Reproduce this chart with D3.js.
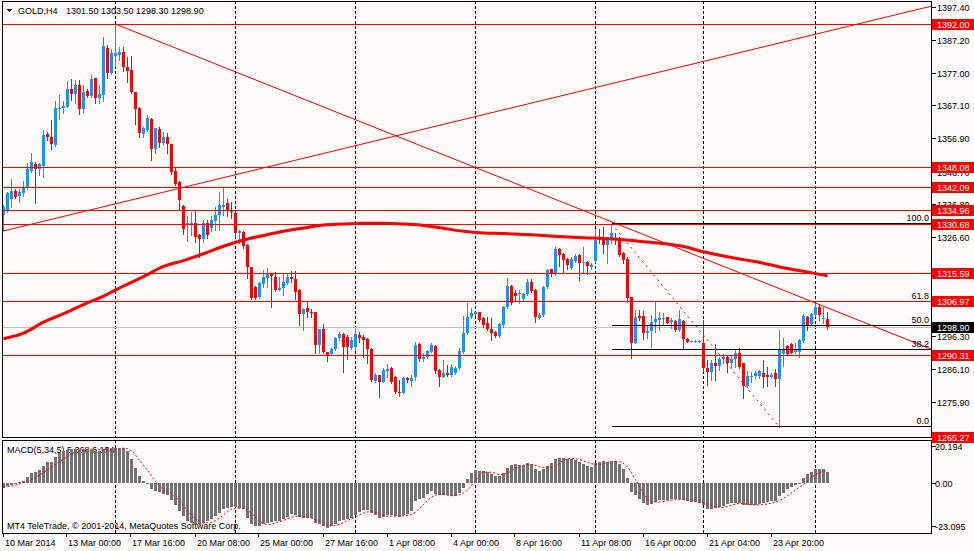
<!DOCTYPE html>
<html>
<head>
<meta charset="utf-8">
<script src="https://cdn.jsdelivr.net/npm/d3@7"></script>
<style>
    html, body { margin: 0; padding: 0; background: #fffafa; overflow: hidden; }
    svg { display: block; font-family: "Liberation Sans", Arial, sans-serif; font-size: 9px; }
</style>
</head>
<body>
<div id="chart"></div>
<script>
// =============================
// DATA (GOLD H4)
// =============================
const opens = [1333.4,1334.9,1338.2,1340.8,1339.2,1340.1,1341.6,1347.0,1349.1,1347.4,1348.4,1358.2,1357.4,1354.9,1365.9,1366.3,1366.6,1372.0,1370.5,1373.3,
1365.9,1371.5,1369.9,1375.4,1369.4,1370.2,1384.6,1376.9,1382.3,1382.5,1383.5,1378.9,1377.9,1371.2,1366.2,1358.3,1359.5,1362.9,1353.6,1359.7,
1355.6,1357.4,1355.1,1346.9,1343.4,1336.2,1330.8,1330.9,1331.0,1327.3,1325.9,1330.8,1329.3,1331.6,1333.4,1335.9,1337.0,1334.9,1334.1,1328.0,
1328.3,1324.2,1317.3,1311.2,1308.1,1312.2,1314.2,1315.5,1314.5,1310.4,1310.9,1312.4,1314.5,1313.8,1310.4,1303.0,1304.9,1303.6,1303.6,1293.5,
1298.3,1291.4,1290.7,1292.3,1295.5,1296.8,1296.0,1292.5,1293.0,1296.6,1296.0,1295.2,1292.3,1282.5,1284.3,1282.2,1285.5,1286.3,1283.6,1279.1,
1278.8,1283.4,1282.5,1283.6,1293.7,1289.1,1289.9,1291.4,1293.3,1285.8,1283.8,1285.0,1284.3,1284.8,1286.5,1291.4,1297.1,1302.0,1302.9,1303.5,
1301.9,1300.1,1298.3,1297.4,1296.3,1299.6,1305.2,1311.6,1309.4,1309.1,1307.6,1309.1,1312.9,1310.4,1301.9,1302.7,1311.4,1316.7,1315.3,1322.9,
1321.3,1319.8,1317.2,1319.4,1321.1,1318.8,1319.1,1317.3,1319.4,1326.7,1326.7,1324.2,1325.9,1326.4,1326.2,1321.6,1319.8,1308.3,1294.2,1302.5,
1302.5,1297.3,1297.8,1300.5,1301.2,1301.5,1302.0,1300.5,1300.9,1298.1,1300.9,1295.2,1294.5,1294.6,1294.6,1294.0,1286.5,1285.3,1288.1,1287.1,
1289.1,1289.9,1288.1,1289.1,1290.9,1287.9,1281.0,1283.8,1284.0,1284.1,1284.8,1284.3,1283.8,1285.0,1283.0,1290.7,1293.3,1293.8,1291.2,1291.4,
1294.8,1302.2,1299.9,1302.7,1305.2,1301.4,1301.5];
const highs = [1336.5,1340.5,1344.4,1341.3,1341.5,1343.9,1349.3,1352.5,1349.8,1349.5,1359.5,1358.9,1362.6,1368.5,1370.2,1368.4,1374.6,1375.1,1374.8,1374.8,
1373.3,1372.1,1376.4,1375.5,1373.3,1388.1,1385.6,1384.4,1392.0,1385.1,1385.1,1382.0,1382.2,1371.2,1366.5,1360.3,1364.1,1363.3,1360.2,1360.5,
1359.0,1358.7,1355.2,1348.2,1343.9,1336.5,1333.1,1334.2,1334.9,1327.6,1331.9,1331.9,1333.1,1335.9,1340.4,1342.1,1338.3,1337.5,1334.4,1328.8,
1328.5,1324.4,1317.5,1311.6,1312.9,1316.5,1317.0,1315.7,1316.0,1314.3,1315.7,1315.5,1316.3,1316.3,1310.6,1304.9,1306.6,1304.5,1303.7,1298.5,
1299.9,1291.4,1292.7,1296.0,1297.6,1297.1,1296.6,1296.0,1299.1,1297.6,1296.6,1295.5,1292.5,1284.8,1284.3,1286.3,1287.6,1286.8,1284.0,1282.7,
1283.8,1283.8,1284.3,1294.3,1294.0,1290.9,1291.9,1294.0,1293.5,1286.0,1288.9,1287.3,1287.3,1287.1,1292.7,1302.4,1306.3,1304.8,1303.7,1303.7,
1302.2,1302.0,1301.9,1297.8,1300.1,1305.6,1314.0,1311.9,1310.4,1310.4,1309.4,1313.7,1313.7,1310.7,1303.2,1311.6,1316.8,1316.8,1323.5,1323.4,
1321.8,1320.1,1320.6,1321.3,1321.3,1323.5,1319.4,1318.6,1329.0,1329.0,1329.8,1326.7,1330.7,1327.8,1326.6,1322.1,1320.6,1308.3,1304.2,1304.2,
1303.9,1299.6,1302.7,1306.8,1303.7,1303.4,1302.2,1301.9,1301.2,1304.2,1301.2,1295.5,1294.7,1294.9,1295.0,1301.2,1288.9,1288.9,1293.8,1289.9,
1290.6,1290.4,1290.4,1292.3,1292.5,1288.1,1285.5,1285.3,1285.5,1285.8,1288.9,1286.8,1285.0,1286.0,1298.1,1295.5,1293.5,1294.0,1294.0,1295.2,
1302.9,1302.4,1303.2,1306.3,1306.0,1305.1,1303.5];
const lows = [1328.8,1334.3,1335.9,1338.5,1337.5,1339.3,1341.3,1346.7,1337.2,1345.6,1345.2,1356.4,1353.7,1354.6,1362.9,1364.6,1366.5,1368.7,1367.9,1364.3,
1365.1,1369.7,1369.7,1367.7,1367.9,1368.4,1375.5,1376.6,1379.2,1381.0,1377.7,1374.3,1370.9,1361.3,1357.4,1357.4,1359.3,1350.3,1352.5,1354.2,
1355.2,1352.5,1345.9,1342.6,1335.2,1327.5,1325.4,1327.3,1325.2,1320.6,1325.2,1326.2,1328.6,1328.8,1328.8,1333.4,1333.1,1332.4,1326.7,1324.7,
1323.4,1314.1,1307.6,1307.5,1307.8,1311.4,1311.4,1305.2,1310.1,1310.4,1308.8,1312.2,1312.9,1307.6,1299.6,1298.1,1302.2,1302.0,1291.1,1291.1,
1291.1,1288.6,1290.4,1291.9,1295.0,1285.3,1289.2,1292.2,1291.9,1294.5,1289.9,1288.1,1282.4,1282.2,1277.6,1282.0,1283.7,1281.9,1278.7,1277.8,
1278.7,1282.2,1280.9,1282.7,1288.7,1288.7,1289.6,1291.2,1285.0,1281.0,1283.6,1284.1,1284.0,1284.6,1286.1,1290.9,1296.9,1301.7,1302.6,1300.9,
1299.1,1298.1,1295.0,1295.8,1296.0,1298.9,1304.8,1306.0,1307.3,1306.5,1307.3,1308.7,1309.8,1300.5,1301.5,1302.4,1311.1,1314.7,1315.0,1317.7,
1316.0,1316.8,1316.8,1319.1,1313.4,1316.0,1315.2,1316.7,1319.1,1324.7,1321.8,1318.6,1324.7,1324.5,1320.9,1318.6,1306.8,1289.4,1294.0,1301.2,
1295.2,1295.5,1293.0,1297.6,1298.1,1299.9,1300.1,1298.8,1297.9,1297.9,1292.7,1294.3,1294.4,1294.4,1294.4,1285.8,1281.2,1282.7,1282.7,1285.8,
1287.9,1285.3,1286.8,1286.6,1286.3,1277.1,1280.7,1282.2,1283.3,1283.3,1280.5,1281.0,1283.3,1280.9,1268.2,1287.1,1290.4,1290.9,1290.9,1289.9,
1294.5,1298.1,1299.6,1302.4,1301.2,1300.1,1298.3];
const closes = [1335.9,1340.2,1340.8,1339.0,1340.5,1341.8,1347.5,1349.6,1347.5,1349.1,1357.9,1357.2,1355.1,1366.2,1366.3,1366.9,1372.0,1370.5,1373.3,1365.9,
1371.2,1370.0,1375.1,1369.4,1370.5,1385.3,1377.1,1383.2,1383.0,1383.5,1378.7,1377.7,1371.2,1365.9,1358.7,1360.0,1363.1,1353.6,1360.0,1355.4,
1357.4,1355.1,1346.7,1342.9,1338.0,1329.1,1331.0,1331.0,1326.7,1325.9,1330.8,1327.3,1331.9,1333.4,1336.5,1336.5,1334.9,1334.4,1328.0,1328.6,
1323.9,1317.3,1307.8,1307.8,1312.6,1314.3,1315.5,1314.8,1310.4,1311.1,1312.7,1314.3,1313.8,1309.8,1303.0,1304.5,1303.6,1303.2,1293.5,1298.3,
1291.4,1290.2,1292.2,1295.7,1296.8,1293.0,1293.0,1295.0,1296.9,1295.5,1295.0,1292.3,1282.7,1284.3,1282.2,1285.8,1286.1,1282.2,1279.0,1278.7,
1283.4,1282.7,1283.4,1293.5,1289.1,1289.9,1291.6,1293.5,1285.5,1283.6,1285.0,1284.3,1286.8,1286.5,1291.6,1297.1,1302.2,1303.2,1303.5,1301.2,
1299.6,1298.3,1297.1,1296.3,1299.8,1305.2,1311.6,1306.3,1308.5,1309.4,1309.1,1312.9,1310.1,1302.2,1302.7,1311.4,1316.5,1315.3,1322.9,1321.1,
1319.6,1318.0,1319.9,1320.9,1318.6,1319.1,1317.7,1318.0,1325.7,1325.7,1324.2,1326.2,1327.8,1325.7,1321.1,1319.6,1307.8,1294.0,1302.0,1301.7,
1297.1,1297.8,1300.5,1301.5,1301.9,1301.9,1300.3,1301.2,1298.1,1301.5,1295.2,1294.5,1294.6,1294.7,1294.8,1286.3,1285.3,1288.1,1287.1,1289.1,
1289.9,1288.1,1289.1,1290.9,1286.8,1281.0,1284.1,1284.1,1284.8,1285.5,1283.8,1283.8,1284.3,1283.0,1291.9,1292.3,1290.7,1291.1,1292.3,1295.0,
1302.4,1299.6,1302.9,1305.2,1302.7,1301.9,1298.9];

// moving average, sampled every 5 bars
const maBars = [0,5,10,15,20,25,30,35,40,45,50,55,60,65,70,75,80,85,90,95,100,105,110,115,120,125,130,135,140,145,150,155,160,165,170,175,180,185,190,195,200,206];
const maVals = [1295.4,1297.1,1300.5,1303.1,1305.9,1308.5,1311.6,1314.5,1317.6,1319.4,1321.5,1323.8,1325.7,1327.1,1328.4,1329.4,1330.3,1330.6,1330.9,1330.9,
1330.6,1330.2,1329.3,1328.4,1327.9,1327.7,1327.4,1327.1,1326.7,1326.4,1326.2,1325.8,1325.2,1324.6,1323.7,1322.1,1320.8,1319.7,1318.6,1317.2,1316.1,1314.7];

// MACD(5,34,5) histogram, one value per bar
const macdVals = [-2.5,-1.5,-1.0,0.3,0.6,1.5,3.6,5.4,6.1,7.2,9.4,11.5,11.5,14.4,16.2,17.5,18.0,18.4,18.4,18.4,
18.8,18.0,18.0,17.5,17.5,18.4,18.9,18.9,19.3,19.3,18.9,17.5,13.0,8.5,4.0,1.3,0.4,-3.2,-4.1,-4.7,
-5.6,-6.5,-9.0,-11.9,-15.0,-17.7,-20.4,-21.3,-21.8,-22.2,-21.3,-20.4,-19.5,-17.7,-15.9,-14.1,-13.2,-12.6,-12.8,-13.5,
-14.1,-18.6,-21.8,-23.1,-23.1,-22.2,-21.3,-20.7,-20.4,-20.4,-19.1,-18.0,-16.8,-17.3,-18.0,-18.6,-18.6,-18.6,-21.3,-22.2,
-23.1,-24.0,-23.1,-21.8,-20.4,-19.8,-19.1,-18.6,-17.3,-15.5,-14.6,-14.6,-15.9,-17.3,-18.6,-18.0,-17.3,-17.3,-17.7,-18.0,
-17.3,-16.8,-15.0,-9.6,-8.7,-7.8,-6.0,-4.1,-6.0,-6.5,-6.5,-6.5,-6.9,-6.9,-5.1,-2.3,2.5,5.4,7.2,6.7,
6.4,6.0,4.9,4.0,4.0,5.8,8.5,9.9,10.3,9.7,9.9,10.8,10.3,7.6,6.7,7.9,9.4,10.8,13.3,13.9,
13.9,13.0,13.0,12.6,11.7,10.3,9.4,9.0,10.8,11.7,12.1,11.7,12.1,12.1,10.3,7.9,3.1,-4.7,-6.5,-8.3,
-10.5,-11.7,-11.0,-10.1,-9.2,-9.0,-9.0,-8.7,-8.7,-8.7,-9.0,-9.6,-9.9,-10.1,-10.5,-11.9,-13.7,-13.7,-13.2,-12.6,
-12.3,-11.4,-10.8,-10.5,-10.5,-11.9,-11.9,-11.9,-11.7,-11.4,-10.8,-10.1,-9.6,-9.6,-6.9,-5.1,-3.2,-2.0,-1.1,0.4,
2.7,5.2,6.3,7.6,7.6,7.6,6.1];

// signal line, sampled every 2 bars
const signalBars = d3.range(0, 207, 2);
const signalVals = [-1.8,-1.5,-0.2,1.0,3.2,5.8,8.8,11.6,14.5,16.9,17.8,18.4,18.2,18.0,18.2,19.0,17.6,12.4,7.0,1.0,
-3.4,-5.9,-9.4,-14.8,-19.3,-21.4,-21.1,-18.8,-15.4,-13.5,-13.5,-16.4,-20.4,-22.4,-21.4,-20.1,-18.3,-17.7,-18.2,-19.7,
-21.4,-23.1,-22.1,-20.1,-18.3,-16.1,-15.3,-16.5,-17.8,-17.7,-17.6,-16.8,-13.7,-9.4,-6.4,-6.0,-6.7,-6.2,-3.6,1.5,
6.0,6.0,4.6,5.6,8.0,9.8,10.2,9.0,8.5,9.5,12.4,13.5,12.8,11.4,10.2,10.6,11.7,11.6,8.8,2.0,
-5.3,-10.0,-10.1,-9.4,-8.9,-8.8,-9.2,-10.0,-11.3,-12.6,-13.1,-11.9,-10.9,-11.3,-11.7,-11.5,-10.7,-9.3,-6.7,-3.6,
-0.6,3.2,5.8,7.0];

// horizontal levels, trendlines, fibo
const levelPrices = [1392.00, 1348.08, 1342.09, 1334.96, 1330.68, 1315.59, 1306.97, 1290.31, 1265.27];
const bidPrice = 1298.90;
const trendUp = [{bar: 0, price: 1328.5}, {bar: 200, price: 1388.0}];
const trendDown = [{bar: 28, price: 1392.0}, {bar: 206, price: 1304.9}];
const fibFrom = {bar: 152, price: 1330.68};
const fibTo = {bar: 194, price: 1268.2};
const fibLevels = [100.0, 61.8, 50.0, 38.2, 0.0];

// axes
const priceTicks = [1397.40, 1387.20, 1377.00, 1367.10, 1356.90, 1346.70, 1336.80, 1326.60, 1316.40, 1306.20, 1296.30, 1286.10, 1275.90];
const macdTicks = [20.194, 0, -23.095];
const macdTickLabels = ["20.194", "0.00", "-23.095"];
const timeBars = [0, 16, 32, 48, 64, 80, 96, 112, 128, 144, 160, 176, 192];
const timeLabels = ["10 Mar 2014", "13 Mar 00:00", "17 Mar 16:00", "20 Mar 08:00", "25 Mar 00:00", "27 Mar 16:00",
    "1 Apr 08:00", "4 Apr 00:00", "8 Apr 16:00", "11 Apr 08:00", "16 Apr 00:00", "21 Apr 04:00", "23 Apr 20:00"];
const separatorBars = [28, 58, 88, 118, 148, 175, 203];

// =============================
// LAYOUT & SCALES
// =============================
const W = 974, H = 551;
const plotL = 2, plotR = 931;
const mainTop = 1, mainBot = 437;
const macdTop = 440, macdBot = 533;

const RED = "#ff0000", BLUE = "#1e90ff", BG = "#fffafa";

const x = d3.scaleLinear().domain([0, 206]).range([3.5, 827.5]);
const y = d3.scaleLinear().domain([1265.24, 1399.4]).range([mainBot, 0]);
const ym = d3.scaleLinear().domain([-26.9, 23.43]).range([macdBot, macdTop]);
const crisp = v => Math.round(v) + 0.5;

const candles = opens.map((o, i) => ({ i, o, h: highs[i], l: lows[i], c: closes[i] }));

const svg = d3.select("#chart").append("svg")
    .attr("width", W)
    .attr("height", H);

svg.append("rect").attr("width", W).attr("height", H).attr("fill", BG);

const defs = svg.append("defs");
defs.append("clipPath").attr("id", "clipMain").append("rect")
    .attr("x", plotL).attr("y", mainTop).attr("width", plotR - plotL).attr("height", mainBot - mainTop);
defs.append("clipPath").attr("id", "clipMacd").append("rect")
    .attr("x", plotL).attr("y", macdTop).attr("width", plotR - plotL).attr("height", macdBot - macdTop);

// =============================
// MAIN WINDOW
// =============================
const main = svg.append("g").attr("clip-path", "url(#clipMain)").attr("shape-rendering", "crispEdges");

// period separators
main.selectAll("line.sep").data(separatorBars).enter().append("line")
    .attr("x1", d => x(d)).attr("x2", d => x(d))
    .attr("y1", mainTop).attr("y2", mainBot)
    .attr("stroke", "#000").attr("stroke-dasharray", "3,2");

// bid line
main.append("line")
    .attr("x1", plotL).attr("x2", plotR)
    .attr("y1", crisp(y(bidPrice))).attr("y2", crisp(y(bidPrice)))
    .attr("stroke", "#c0c0c0");

// candles
const candle = main.append("g").selectAll("g").data(candles).enter().append("g")
    .attr("fill", d => d.c >= d.o ? BLUE : RED)
    .attr("stroke", d => d.c >= d.o ? BLUE : RED);

candle.append("line")
    .attr("x1", d => x(d.i)).attr("x2", d => x(d.i))
    .attr("y1", d => Math.round(y(d.h))).attr("y2", d => Math.round(y(d.l)) + 1);

candle.append("rect")
    .attr("stroke", "none")
    .attr("x", d => x(d.i) - 1.5)
    .attr("width", 3)
    .attr("y", d => Math.round(y(Math.max(d.o, d.c))))
    .attr("height", d => Math.max(1, Math.round(y(Math.min(d.o, d.c))) - Math.round(y(Math.max(d.o, d.c)))));

// moving average
const maLine = d3.line()
    .x((d, k) => x(maBars[k]))
    .y(d => y(d))
    .curve(d3.curveMonotoneX);

main.append("path")
    .attr("d", maLine(maVals))
    .attr("fill", "none")
    .attr("stroke", RED)
    .attr("stroke-width", 3)
    .attr("shape-rendering", "auto");

// fibo levels
const fibPrice = lv => fibTo.price + (fibFrom.price - fibTo.price) * lv / 100;
main.selectAll("line.fib").data(fibLevels).enter().append("line")
    .attr("x1", x(fibFrom.bar)).attr("x2", plotR)
    .attr("y1", d => crisp(y(fibPrice(d))) - 1).attr("y2", d => crisp(y(fibPrice(d))) - 1)
    .attr("stroke", "#000");

// horizontal levels
main.selectAll("line.lvl").data(levelPrices).enter().append("line")
    .attr("x1", plotL).attr("x2", plotR)
    .attr("y1", d => crisp(y(d))).attr("y2", d => crisp(y(d)))
    .attr("stroke", RED);

// trendlines
function rayPoints(a, b, fromX, toX) {
    const ax = x(a.bar), ay = y(a.price), bx = x(b.bar), by = y(b.price);
    const k = (by - ay) / (bx - ax);
    return [[fromX, ay + k * (fromX - ax)], [toX, ay + k * (toX - ax)]];
}

const trend = main.append("g").attr("fill", "none").attr("stroke", RED).attr("shape-rendering", "auto");
trend.append("path").attr("d", d3.line()(rayPoints(trendUp[0], trendUp[1], plotL, plotR)));
trend.append("path").attr("d", d3.line()(rayPoints(trendDown[0], trendDown[1], x(trendDown[0].bar), plotR)));
trend.append("path")
    .attr("d", d3.line()([[x(fibFrom.bar), y(fibFrom.price)], [x(fibTo.bar), y(fibTo.price)]]))
    .attr("stroke-dasharray", "2,4");

// fibo labels
svg.append("g").selectAll("text").data(fibLevels).enter().append("text")
    .attr("x", plotR - 2)
    .attr("y", d => Math.round(y(fibPrice(d))) - 3)
    .attr("text-anchor", "end")
    .attr("fill", "#000")
    .text(d => d.toFixed(1));

// header
svg.append("path").attr("d", "M6.5,9 L12.5,9 L9.5,12 Z").attr("fill", "#000");
svg.append("text").attr("x", 18).attr("y", 14).attr("fill", "#000").text("GOLD,H4");
svg.append("text").attr("x", 66).attr("y", 14).attr("fill", "#000").text("1301.50 1303.50 1298.30 1298.90");

// =============================
// MACD WINDOW
// =============================
const macd = svg.append("g").attr("clip-path", "url(#clipMacd)").attr("shape-rendering", "crispEdges");

macd.selectAll("line.sep").data(separatorBars).enter().append("line")
    .attr("x1", d => x(d)).attr("x2", d => x(d))
    .attr("y1", macdTop).attr("y2", macdBot)
    .attr("stroke", "#000").attr("stroke-dasharray", "3,2");

macd.append("text").attr("x", 7).attr("y", 453).attr("fill", "#000").text("MACD(5,34,5) 5.368 6.154");
macd.append("text").attr("x", 7).attr("y", 529).attr("fill", "#000").text("MT4 TeleTrade, \u00a9 2001-2014, MetaQuotes Software Corp.");

const zeroY = Math.round(ym(0));
macd.append("g").selectAll("rect").data(macdVals).enter().append("rect")
    .attr("x", (d, i) => x(i) - 1.5)
    .attr("width", 3)
    .attr("y", d => d >= 0 ? Math.round(ym(d)) : zeroY)
    .attr("height", d => Math.max(1, Math.abs(Math.round(ym(d)) - zeroY)))
    .attr("fill", "#737373");

const sigLine = d3.line()
    .x((d, k) => x(signalBars[k]))
    .y(d => ym(d))
    .curve(d3.curveMonotoneX);

macd.append("path")
    .attr("d", sigLine(signalVals))
    .attr("fill", "none")
    .attr("stroke", RED)
    .attr("stroke-dasharray", "2,2")
    .attr("shape-rendering", "auto");

// =============================
// FRAMES
// =============================
svg.append("rect").attr("x", plotL + 0.5).attr("y", mainTop + 0.5)
    .attr("width", plotR - plotL).attr("height", mainBot - mainTop)
    .attr("fill", "none").attr("stroke", "#000").attr("shape-rendering", "crispEdges");
svg.append("rect").attr("x", plotL + 0.5).attr("y", macdTop + 0.5)
    .attr("width", plotR - plotL).attr("height", macdBot - macdTop)
    .attr("fill", "none").attr("stroke", "#000").attr("shape-rendering", "crispEdges");

// =============================
// PRICE AXIS
// =============================
const axisX = plotR + 0.5;
const boxes = levelPrices.map(p => ({ p, fill: RED })).concat([{ p: bidPrice, fill: "#000" }]);
// a tick label sitting right under a level box is not shown (as in the terminal)
const hiddenTick = t => boxes.some(b => Math.abs(y(b.p) - y(t)) < 3);

const pAxis = svg.append("g");
pAxis.selectAll("line").data(priceTicks).enter().append("line")
    .attr("x1", axisX).attr("x2", axisX + 4)
    .attr("y1", d => crisp(y(d))).attr("y2", d => crisp(y(d)))
    .attr("stroke", "#000").attr("shape-rendering", "crispEdges");
pAxis.selectAll("text").data(priceTicks.filter(t => !hiddenTick(t))).enter().append("text")
    .attr("x", 937).attr("y", d => Math.round(y(d)) + 3.5)
    .attr("fill", "#000")
    .text(d => d.toFixed(2));

// level boxes
const box = svg.append("g").selectAll("g").data(boxes).enter().append("g");
box.append("rect")
    .attr("x", 932).attr("width", W - 932)
    .attr("y", d => Math.round(y(d.p)) - 5).attr("height", 11)
    .attr("fill", d => d.fill).attr("shape-rendering", "crispEdges");
box.append("text")
    .attr("x", 937).attr("y", d => Math.round(y(d.p)) + 3.5)
    .attr("fill", "#fff")
    .text(d => d.p.toFixed(2));

// macd axis
const mAxis = svg.append("g");
mAxis.selectAll("line").data(macdTicks).enter().append("line")
    .attr("x1", axisX).attr("x2", axisX + 4)
    .attr("y1", d => crisp(ym(d))).attr("y2", d => crisp(ym(d)))
    .attr("stroke", "#000").attr("shape-rendering", "crispEdges");
mAxis.selectAll("text").data(macdTicks).enter().append("text")
    .attr("x", 935).attr("y", d => Math.round(ym(d)) + 3.5)
    .attr("fill", "#000")
    .text((d, i) => macdTickLabels[i]);

// =============================
// TIME AXIS
// =============================
const tAxis = svg.append("g");
tAxis.selectAll("line").data(timeBars).enter().append("line")
    .attr("x1", d => Math.round(x(d)) - 0.5).attr("x2", d => Math.round(x(d)) - 0.5)
    .attr("y1", macdBot).attr("y2", macdBot + 4)
    .attr("stroke", "#000").attr("shape-rendering", "crispEdges");
tAxis.selectAll("text").data(timeBars).enter().append("text")
    .attr("x", d => Math.round(x(d)) + 1)
    .attr("y", 546)
    .attr("fill", "#000")
    .text((d, i) => timeLabels[i]);
</script>
</body>
</html>
